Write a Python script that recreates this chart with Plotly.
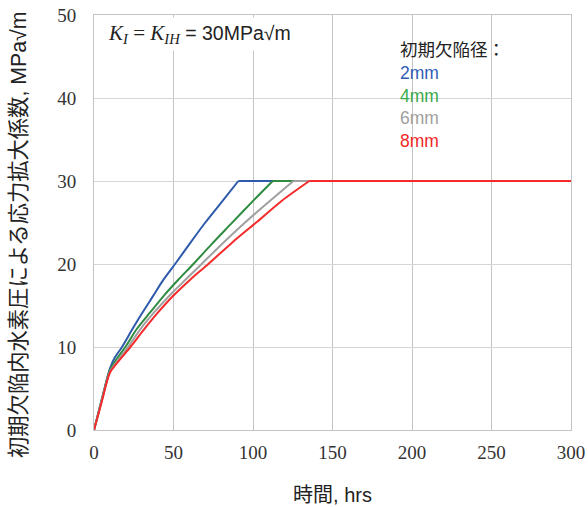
import plotly.graph_objects as go

# Data (time in hrs, K in MPa√m)
t_2mm = [0, 5, 10, 13, 17.6, 24, 30, 37, 44, 51, 60, 70, 80, 90.8, 300]
k_2mm = [0, 3.8, 7.4, 8.7, 10, 12.1, 14, 16.1, 18.2, 20, 22.4, 25, 27.4, 30, 30]
t_4mm = [0, 5, 10, 14, 19.7, 27, 35, 44, 53, 62.5, 74, 86, 99, 112.4, 300]
k_4mm = [0, 3.7, 7.2, 8.5, 10, 12.2, 14.1, 16.2, 18.1, 20, 22.4, 24.8, 27.4, 30, 30]
t_6mm = [0, 5, 10, 15, 21.4, 29, 37.5, 48, 57.5, 67.7, 81, 95, 110, 125.4, 300]
k_6mm = [0, 3.6, 7.0, 8.4, 10, 12.1, 14.1, 16.3, 18.1, 20, 22.5, 25, 27.5, 30, 30]
t_8mm = [0, 5, 10, 15.5, 22.9, 31, 40, 50, 61, 71.9, 87, 102, 118, 135.4, 300]
k_8mm = [0, 3.5, 6.9, 8.3, 10, 12, 14.1, 16.2, 18.2, 20, 22.6, 25, 27.6, 30, 30]

series_names = ["2mm", "4mm", "6mm", "8mm"]
line_colors = ["#2E5AAC", "#2E8B40", "#A0A0A0", "#F52A2A"]
text_colors = ["#2F5DB8", "#3AAA4A", "#A0A0A0", "#F02828"]

x_ticks = [0, 50, 100, 150, 200, 250, 300]
y_ticks = [0, 10, 20, 30, 40, 50]

y_title = "初期欠陥内水素圧による応力拡大係数, MPa√m"
x_title = "時間, hrs"

fig = go.Figure()
for t, k, name, c in zip([t_2mm, t_4mm, t_6mm, t_8mm],
                         [k_2mm, k_4mm, k_6mm, k_8mm],
                         series_names, line_colors):
    # rising part (smooth curve) up to the plateau onset
    fig.add_trace(go.Scatter(x=t[:-1], y=k[:-1], mode="lines", name=name,
                             line=dict(color=c, width=2, shape="spline", smoothing=0.8)))
    # plateau
    fig.add_trace(go.Scatter(x=t[-2:], y=k[-2:], mode="lines", name=name,
                             line=dict(color=c, width=2), showlegend=False))

cjk = "Liberation Sans, Noto Sans CJK JP, sans-serif"
serif = "Times New Roman, Liberation Serif, DejaVu Serif, serif"

fig.update_layout(
    width=588, height=507,
    margin=dict(l=94, r=17, t=15, b=77, autoexpand=False),
    plot_bgcolor="white", paper_bgcolor="white",
    font=dict(family=serif, size=19, color="#333333"),
    showlegend=False,
    xaxis=dict(range=[0, 300], tickvals=x_ticks, showgrid=True, automargin=False,
               gridcolor="#C4C4C4", gridwidth=1, zeroline=False,
               showline=True, linecolor="#C4C4C4", mirror=True,
               ticks="", ticklabelstandoff=5, ticklabeloverflow="allow",
               tickfont=dict(family=serif, size=19, color="#333333"),
               title=dict(text=x_title, standoff=26,
                          font=dict(family=cjk, size=20, color="#222222"))),
    yaxis=dict(range=[0, 50], tickvals=y_ticks, showgrid=True, automargin=False,
               gridcolor="#D6D6D6", gridwidth=1, zeroline=False,
               showline=True, linecolor="#C4C4C4", mirror=True,
               ticks="", ticklabelstandoff=13, ticklabeloverflow="allow",
               tickfont=dict(family=serif, size=19, color="#333333")),
)

# y-axis title (placed as rotated text, centred as in the reference)
fig.add_annotation(
    xref="paper", yref="paper", x=(19 - 94) / 477, y=(430 - 235) / 415,
    xanchor="center", yanchor="middle", showarrow=False, textangle=-90,
    text=y_title, font=dict(family=cjk, size=21.3, color="#222222"),
)

# white box behind legend-like text block (hides gridlines)
fig.add_shape(type="rect", xref="paper", yref="paper",
              x0=(380 - 94) / 477, x1=(559 - 94) / 477,
              y0=(430 - 157) / 415, y1=1.0,
              fillcolor="white", line=dict(width=0), layer="between")

fig.add_annotation(
    xref="paper", yref="paper", x=(104 - 94) / 477, y=(430 - 34) / 415,
    xanchor="left", yanchor="middle", showarrow=False,
    bgcolor="white", borderpad=3,
    text='<span style="font-family:Liberation Serif;font-size:21px"><i>K<sub>I</sub></i> = <i>K<sub>IH</sub></i></span> = 30MPa√m',
    font=dict(family=cjk, size=19.5, color="#222222"),
)

legend_lines = ["初期欠陥径："] + [
    f'<span style="color:{c}">{n}</span>' for n, c in zip(series_names, text_colors)
]
fig.add_annotation(
    xref="paper", yref="paper", x=(398 - 94) / 477, y=(430 - 38) / 415,
    xanchor="left", yanchor="top", align="left", showarrow=False,
    text="<br>".join(legend_lines),
    font=dict(family=cjk, size=17.5, color="#222222"),
)

fig.write_html("out.html", config={"displayModeBar": False},
               post_script="document.body.style.margin='0';document.body.style.padding='0';")
